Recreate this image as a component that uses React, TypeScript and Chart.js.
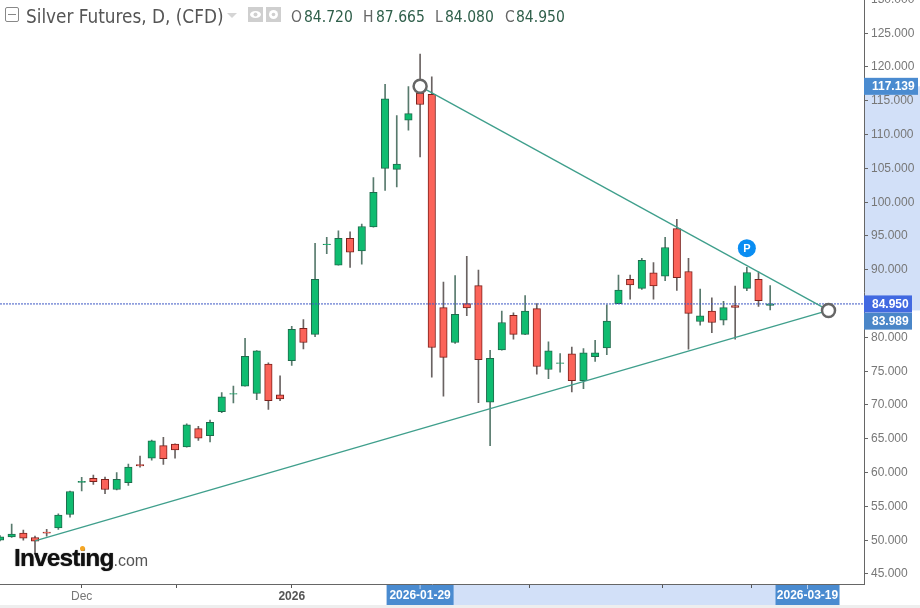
import React, { useEffect, useRef } from 'react';
import { Chart, registerables } from 'chart.js';

Chart.register(...registerables);

// daily candles (index 36 = 2026-01-29)
const opens = [50.0, 50.5, 51.05, 50.4, 51.2, 51.8, 53.8, 58.55, 59.15, 59.0, 57.5, 58.5, 61.2, 62.15, 64.0, 64.2, 63.8, 66.5, 65.45, 69.0, 71.6, 72.8, 71.7, 76.05, 71.5, 76.55, 81.35, 80.45, 93.7, 90.7, 94.65, 92.8, 96.35, 105.0, 104.85, 112.15, 116.1, 115.95, 84.4, 79.25, 85.0, 87.65, 70.4, 78.15, 83.25, 80.45, 84.25, 75.25, 76.15, 77.55, 73.6, 77.15, 78.45, 85.0, 88.6, 87.25, 89.55, 89.05, 96.1, 89.75, 82.35, 83.9, 82.55, 84.7, 87.25, 88.6, 84.72];
const highs = [50.7, 52.4, 51.5, 50.6, 51.6, 53.9, 57.25, 59.3, 59.65, 59.35, 60.0, 61.25, 62.45, 64.8, 65.2, 64.25, 67.2, 66.85, 67.75, 71.85, 72.8, 79.85, 78.05, 76.25, 74.3, 81.65, 82.65, 93.9, 94.8, 95.75, 95.6, 96.75, 103.65, 117.45, 112.8, 117.1, 121.9, 118.55, 88.2, 89.15, 92.0, 89.95, 78.1, 83.9, 83.65, 86.2, 85.0, 79.35, 77.6, 78.55, 78.35, 79.55, 84.8, 89.2, 89.2, 91.7, 91.05, 94.8, 97.45, 91.7, 87.15, 85.85, 85.35, 87.6, 90.35, 89.7, 87.665];
const lows = [49.9, 50.4, 50.0, 48.15, 50.6, 51.6, 53.4, 57.3, 58.25, 56.9, 57.45, 58.1, 60.8, 61.85, 61.2, 62.15, 63.75, 64.75, 64.55, 68.85, 70.3, 72.8, 70.8, 69.35, 70.65, 75.85, 78.3, 80.1, 92.4, 90.7, 90.35, 90.85, 96.3, 101.75, 102.25, 110.65, 106.7, 74.1, 71.3, 79.1, 83.2, 70.35, 64.0, 78.1, 79.75, 80.4, 74.55, 73.9, 74.85, 71.95, 72.4, 76.45, 77.45, 85.0, 85.65, 87.1, 85.65, 88.4, 86.95, 78.25, 81.8, 80.7, 81.85, 79.75, 86.9, 84.6, 84.08];
const closes = [50.5, 50.9, 50.3, 49.85, 51.05, 53.7, 57.2, 58.7, 58.65, 57.5, 59.0, 60.8, 61.0, 64.7, 62.05, 63.35, 67.05, 65.1, 67.45, 71.2, 71.7, 77.2, 78.0, 70.65, 70.9, 81.2, 79.25, 88.6, 93.8, 94.65, 92.6, 96.4, 101.45, 115.3, 105.65, 113.1, 114.45, 78.5, 77.05, 83.4, 84.35, 76.7, 76.9, 82.2, 80.45, 83.9, 75.7, 78.0, 76.25, 73.6, 77.7, 77.7, 82.4, 87.0, 87.75, 91.4, 87.6, 93.3, 88.85, 83.55, 83.2, 82.2, 84.4, 84.45, 89.6, 85.45, 84.95];

const yTicks = [45, 50, 55, 60, 65, 70, 75, 80, 85, 90, 95, 100, 105, 110, 115, 120, 125, 130];
const xTicks = [7, 15.1, 25, 45.4, 56.8, 64.4];
const xTickLabels: Record<number, string> = { 7: 'Dec', 25: '2026' };

// trend lines: [index, price]
const upperLine = [[36, 117.139], [71, 83.989]];
const lowerLine = [[3, 49.9], [71, 83.989]];
const anchors = [[36, 117.139], [71, 83.989]];
const lastClose = 84.95;
const dateTags = [[36, '2026-01-29'], [69.2, '2026-03-19']] as [number, string][];
const badge = [64, 93.2];

const xMin = 0;
const xMax = 74.04;
const yMin = 43.52;
const yMax = 129.88;

const GREEN = '#0fbc70';
const RED = '#fb6359';

const overlays = {
  id: 'overlays',
  beforeDraw(chart: any) {
    const { ctx } = chart;
    const x = chart.scales.x;
    const y = chart.scales.y;
    const { right, bottom } = chart.chartArea;
    ctx.save();
    ctx.fillStyle = '#d2e0f8';
    // selected range on both axes
    const top = y.getPixelForValue(upperLine[0][1]);
    const end = y.getPixelForValue(upperLine[1][1]);
    ctx.fillRect(right, top, 56, end - top);
    const a = x.getPixelForValue(dateTags[0][0]);
    const b = x.getPixelForValue(dateTags[1][0]);
    ctx.fillRect(a, bottom + 1, b - a, 20);
    ctx.fillStyle = '#eeeeee';
    ctx.fillRect(0, bottom + 21, 920, 10);
    ctx.restore();
  },
  afterDraw(chart: any) {
    const { ctx } = chart;
    const x = chart.scales.x;
    const y = chart.scales.y;
    const { right, bottom } = chart.chartArea;
    ctx.save();
    ctx.font = 'bold 12px "Liberation Sans"';
    ctx.textBaseline = 'middle';

    const priceTag = (value: number, shift: number, color: string, w: number) => {
      const py = y.getPixelForValue(value) + shift;
      ctx.fillStyle = color;
      ctx.fillRect(right, py - 8.5, w, 17);
      ctx.fillStyle = '#ffffff';
      ctx.textAlign = 'left';
      ctx.fillText(value.toFixed(3), right + 8, py + 0.5);
    };
    priceTag(upperLine[0][1], 0, '#4a8bd0', 54);
    priceTag(upperLine[1][1], 10.7, '#4a86c8', 48);
    priceTag(lastClose, 0, '#4169e1', 48);

    dateTags.forEach(([idx, label]) => {
      const px = x.getPixelForValue(idx);
      const w = label === '2026-01-29' ? 67 : 64;
      ctx.fillStyle = '#4a8bd0';
      ctx.fillRect(px - w / 2, bottom + 1, w, 20);
      ctx.fillStyle = '#ffffff';
      ctx.textAlign = 'center';
      ctx.fillText(label, px, bottom + 12);
      ctx.fillStyle = '#b9d3f2';
      ctx.fillRect(px - 0.5, bottom + 1, 1, 4);
    });

    // "P" badge
    const bx = x.getPixelForValue(badge[0]);
    const by = y.getPixelForValue(badge[1]);
    ctx.fillStyle = '#0a8df2';
    ctx.beginPath();
    ctx.arc(bx, by, 9, 0, Math.PI * 2);
    ctx.fill();
    ctx.fillStyle = '#ffffff';
    ctx.font = 'bold 11px "Liberation Sans"';
    ctx.textAlign = 'center';
    ctx.fillText('P', bx, by + 0.5);
    ctx.restore();
  },
};

export default function App() {
  const chartRef = useRef<HTMLCanvasElement>(null);

  useEffect(() => {
    if (!chartRef.current) return;

    const idx = opens.map((_, i) => i);
    const isUp = (i: number) => closes[i] >= opens[i];

    const chart = new Chart(chartRef.current, {
      type: 'bar',
      data: {
        datasets: [
          {
            type: 'line',
            data: anchors.map(([x, y]) => ({ x, y })),
            showLine: false,
            pointRadius: 6.5,
            pointBackgroundColor: '#ffffff',
            pointBorderColor: '#666666',
            pointBorderWidth: 2.5,
            order: 0,
          },
          {
            type: 'line',
            data: upperLine.map(([x, y]) => ({ x, y })),
            borderColor: '#3f9f8c',
            borderWidth: 1.3,
            pointRadius: 0,
            order: 1,
          },
          {
            type: 'line',
            data: lowerLine.map(([x, y]) => ({ x, y })),
            borderColor: '#3f9f8c',
            borderWidth: 1.3,
            pointRadius: 0,
            order: 1,
          },
          {
            type: 'line',
            data: [{ x: xMin, y: lastClose }, { x: xMax, y: lastClose }],
            borderColor: '#3d58c4',
            borderWidth: 1,
            borderDash: [2, 1],
            pointRadius: 0,
            order: 1,
          },
          {
            type: 'bar',
            data: idx.map((i) => ({ x: i, y: [opens[i], closes[i]] })),
            backgroundColor: idx.map((i) => (isUp(i) ? GREEN : RED)),
            borderColor: idx.map((i) => (isUp(i) ? '#1f6b4c' : '#7d211c')),
            borderWidth: 1,
            borderSkipped: false,
            barThickness: 7.5,
            grouped: false,
            order: 2,
          },
          {
            type: 'bar',
            data: idx.map((i) => ({ x: i, y: [lows[i], highs[i]] })),
            backgroundColor: idx.map((i) => (isUp(i) ? '#587a6d' : '#6a6362')),
            barThickness: 1,
            grouped: false,
            order: 3,
          },
        ] as any,
      },
      options: {
        responsive: false,
        animation: false,
        events: [],
        layout: { padding: 0, autoPadding: false },
        plugins: { legend: { display: false }, tooltip: { enabled: false } },
        scales: {
          x: {
            type: 'linear',
            min: xMin,
            max: xMax,
            offset: false,
            afterFit(scale: any) {
              scale.height = 24;
            },
            afterBuildTicks(scale: any) {
              scale.ticks = xTicks.map((value) => ({ value }));
            },
            grid: { drawOnChartArea: false, tickLength: 4, tickColor: '#555555', offset: false },
            border: { color: '#666666' },
            ticks: {
              autoSkip: false,
              maxRotation: 0,
              padding: 1,
              color: (c: any) => (c.tick?.value === 25 ? '#555555' : '#777777'),
              font: (c: any) => ({
                family: '"Liberation Sans"',
                size: 12,
                weight: c.tick?.value === 25 ? 'bold' : 'normal',
              }),
              callback: (v: any) => xTickLabels[v] ?? '',
            },
          },
          y: {
            position: 'right',
            min: yMin,
            max: yMax,
            afterFit(scale: any) {
              scale.width = 56;
            },
            afterBuildTicks(scale: any) {
              scale.ticks = yTicks.map((value) => ({ value }));
            },
            grid: { drawOnChartArea: false, tickLength: 4, tickColor: '#666666' },
            border: { color: '#666666' },
            ticks: {
              padding: 3,
              color: '#777777',
              font: { family: '"Liberation Sans"', size: 12 },
              callback: (v: any) => Number(v).toFixed(3),
            },
          },
        },
      } as any,
      plugins: [overlays],
    });

    return () => chart.destroy();
  }, []);

  const head: React.CSSProperties = {
    position: 'absolute',
    top: 8,
    fontFamily: '"DejaVu Sans Condensed", "DejaVu Sans", sans-serif',
    fontSize: 15.5,
    lineHeight: '18px',
    whiteSpace: 'nowrap',
  };
  const ohlc: [string, number, string, number][] = [
    ['O', 291, '84.720', 304],
    ['H', 363, '87.665', 376],
    ['L', 435, '84.080', 445],
    ['C', 505, '84.950', 516],
  ];

  return (
    <div style={{ position: 'fixed', inset: 0, overflow: 'hidden', background: '#ffffff' }}>
      <canvas
        ref={chartRef}
        width={920}
        height={618}
        style={{ position: 'absolute', left: 0, top: -10, width: 920, height: 618 }}
      />
      <div
        style={{
          position: 'absolute', left: 5, top: 7, width: 12, height: 13,
          border: '1px solid #888888', borderRadius: 2,
        }}
      >
        <div style={{ position: 'absolute', left: 2, right: 2, top: 6, height: 1, background: '#888888' }} />
      </div>
      <div style={{ ...head, left: 26, top: 6, fontSize: 18.8, lineHeight: '22px', color: '#555555' }}>
        Silver Futures, D, (CFD)
      </div>
      <svg style={{ position: 'absolute', left: 227, top: 13 }} width="10" height="6">
        <path d="M0 0 L10 0 L5 5 Z" fill="#d5d5d5" />
      </svg>
      <svg style={{ position: 'absolute', left: 248, top: 7 }} width="34" height="16">
        <rect x="0" y="0" width="15" height="15" fill="#cfcfcf" />
        <rect x="18" y="0" width="15" height="15" fill="#cfcfcf" />
        <ellipse cx="7.5" cy="7.5" rx="5.5" ry="3.5" fill="#ffffff" />
        <circle cx="7.5" cy="7.5" r="2" fill="#cfcfcf" />
        <circle cx="25.5" cy="7.5" r="4.5" fill="#ffffff" />
        <circle cx="25.5" cy="7.5" r="1.8" fill="#cfcfcf" />
      </svg>
      {ohlc.map(([k, kx, v, vx]) => (
        <React.Fragment key={k}>
          <span style={{ ...head, left: kx, color: '#666666' }}>{k}</span>
          <span style={{ ...head, left: vx, color: '#2f5f4a' }}>{v}</span>
        </React.Fragment>
      ))}
      <div
        style={{
          position: 'absolute', left: 14, top: 543, fontFamily: '"Liberation Sans"',
          fontWeight: 'bold', fontSize: 24.5, lineHeight: '30px', letterSpacing: -0.9,
          color: '#111111', whiteSpace: 'nowrap', textShadow: '0 0 1px #333333',
        }}
      >
        Investing
        <span style={{ fontWeight: 'normal', fontSize: 16, letterSpacing: 0, color: '#555555', textShadow: 'none' }}>.com</span>
      </div>
      <div
        style={{
          position: 'absolute', left: 80, top: 546, width: 5, height: 5,
          borderRadius: 3, background: '#f5a623',
        }}
      />
    </div>
  );
}
